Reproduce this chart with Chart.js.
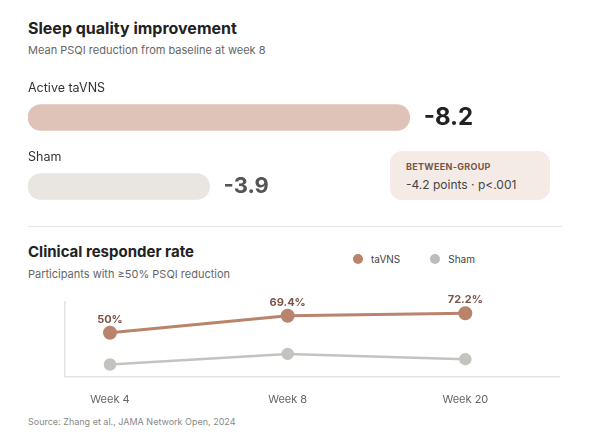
<!DOCTYPE html>
<html><head><meta charset="utf-8">
<script src="https://cdn.jsdelivr.net/npm/chart.js@4"></script>
<style>
body{margin:0;width:590px;height:436px;background:#fff;font-family:Inter,sans-serif;position:relative;overflow:hidden}
.t{position:absolute;white-space:nowrap}
</style></head><body>
<div class="t" style="left:28px;top:18px;font-size:16px;font-weight:700;color:#222">Sleep quality improvement</div>
<div class="t" style="left:28px;top:43px;font-size:11px;color:#666">Mean PSQI reduction from baseline at week 8</div>
<div class="t" style="left:28px;top:80px;font-size:12.5px;color:#333;z-index:2">Active taVNS</div>
<div class="t" style="left:28px;top:149px;font-size:12.5px;color:#333;z-index:2">Sham</div>
<div style="position:absolute;left:28px;top:83px;width:540px;height:138px"><canvas id="bars"></canvas></div>
<div class="t" style="left:390px;top:151px;width:160px;height:49px;background:#f4ebe6;border-radius:12px;z-index:2">
  <div style="position:absolute;left:16px;top:10px;font-size:9px;font-weight:700;color:#7a5548;letter-spacing:.3px">BETWEEN-GROUP</div>
  <div style="position:absolute;left:16px;top:26px;font-size:12px;color:#444">-4.2 points · p&lt;.001</div>
</div>
<div style="position:absolute;left:28px;top:226px;width:534px;height:1px;background:#e6e6e6"></div>
<div class="t" style="left:28px;top:242px;font-size:15px;font-weight:700;color:#222">Clinical responder rate</div>
<div class="t" style="left:28px;top:267px;font-size:11px;color:#666">Participants with ≥50% PSQI reduction</div>
<div class="t" style="left:353px;top:253px;font-size:10px;color:#444"><span style="display:inline-block;width:10px;height:10px;border-radius:5px;background:#b9836c;vertical-align:-1px;margin-right:8px"></span>taVNS<span style="display:inline-block;width:10px;height:10px;border-radius:5px;background:#bdbcb8;vertical-align:-1px;margin:0 8px 0 30px"></span>Sham</div>
<div style="position:absolute;left:56px;top:284px;width:512px;height:130px"><canvas id="line"></canvas></div>
<div class="t" style="left:28px;top:416px;font-size:9px;color:#888">Source: Zhang et al., JAMA Network Open, 2024</div>
<script>
const groups = ['Active taVNS', 'Sham'];
const psqiReduction = [8.2, 3.9];
const weeks = ['Week 4', 'Week 8', 'Week 20'];
const tavns = [50, 69.4, 72.2];
const sham = [14, 26, 20];

const barLabels = {
  id: 'barLabels',
  afterDatasetsDraw(chart) {
    const ctx = chart.ctx;
    chart.getDatasetMeta(0).data.forEach((bar, i) => {
      ctx.save();
      ctx.font = (i === 0 ? '700 24px' : '700 22px') + ' Inter, sans-serif';
      ctx.fillStyle = i === 0 ? '#222' : '#555';
      ctx.textBaseline = 'middle';
      ctx.fillText('-' + psqiReduction[i], bar.x + 14, bar.y);
      ctx.restore();
    });
  }
};

new Chart(document.getElementById('bars'), {
  type: 'bar',
  data: { labels: groups, datasets: [{ data: psqiReduction, backgroundColor: ['#dfc3b8', '#e9e5e0'], barThickness: 26, borderRadius: 13, borderSkipped: false }] },
  options: {
    indexAxis: 'y', responsive: true, maintainAspectRatio: false, animation: false,
    layout: { padding: 0 },
    plugins: { legend: { display: false }, tooltip: { enabled: false } },
    scales: {
      x: { display: false, min: 0, max: 11.6 },
      y: { display: false }
    }
  },
  plugins: [barLabels]
});

const pointLabels = {
  id: 'pointLabels',
  afterDatasetsDraw(chart) {
    const ctx = chart.ctx;
    chart.getDatasetMeta(0).data.forEach((p, i) => {
      ctx.save();
      ctx.font = '700 11px Inter, sans-serif';
      ctx.fillStyle = '#7a5548';
      ctx.textAlign = 'center';
      ctx.fillText(tavns[i] + '%', p.x, p.y - 10);
      ctx.restore();
    });
  }
};

new Chart(document.getElementById('line'), {
  type: 'line',
  data: {
    datasets: [
      { label: 'taVNS', data: tavns.map((v, i) => ({ x: i, y: v })), borderColor: '#b9836c', backgroundColor: '#b9836c', borderWidth: 3, pointRadius: 5.5 },
      { label: 'Sham', data: sham.map((v, i) => ({ x: i, y: v })), borderColor: '#c4c3bf', backgroundColor: '#c4c3bf', borderWidth: 2.5, pointRadius: 5 }
    ]
  },
  options: {
    responsive: true, maintainAspectRatio: false, animation: false,
    layout: { padding: { top: 18, right: 0 } },
    plugins: { legend: { display: false }, tooltip: { enabled: false } },
    scales: {
      x: {
        type: 'linear', min: -0.256, max: 2.53,
        afterBuildTicks: a => { a.ticks = weeks.map((w, i) => ({ value: i })); },
        ticks: { callback: v => weeks[v], color: '#666', font: { size: 11, family: 'Inter' }, padding: 8 },
        grid: { display: false }, border: { color: '#e3e3e3', width: 1.5 }
      },
      y: {
        min: 0, max: 85,
        ticks: { display: false }, grid: { display: false }, border: { color: '#e3e3e3', width: 1.5 }
      }
    }
  },
  plugins: [pointLabels]
});
</script>
</body></html>
